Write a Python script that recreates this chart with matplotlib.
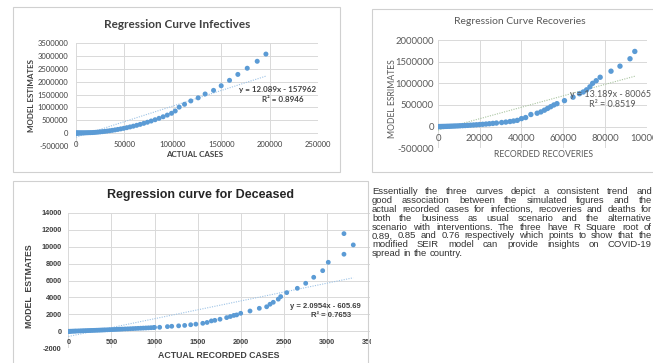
import matplotlib
matplotlib.use("Agg")
import matplotlib.pyplot as plt
from matplotlib.patches import Rectangle
from matplotlib.ticker import FixedLocator, FuncFormatter
import numpy as np

W, H = 663, 363

# ---------------- data ----------------
inf_x = [0, 300, 700, 1200, 1800, 2500, 3300, 4200, 5200, 6300, 7500, 8800, 10200, 11700,
         13300, 15000, 16800, 18700, 20700, 22800, 25000, 27300, 29700, 32200, 34800, 37500,
         40300, 43200, 46200, 49300, 52500, 55800, 59200, 62700, 66300, 70000, 73800, 77700,
         81700, 85800, 90000, 94300, 98700, 102500, 106600, 112100, 118600, 126200, 133400,
         142100, 150000, 158600, 167200, 176900, 187200, 196200]
inf_y = [0, 1000, 2000, 3000, 4000, 5000, 6000, 7000, 8000, 9000, 10000, 11000, 13000, 15000,
         17000, 19000, 22000, 27000, 33000, 40000, 48000, 58000, 68000, 80000, 93000, 108000,
         125000, 143000, 164000, 186000, 212000, 240000, 270000, 303000, 340000, 380000, 423000,
         470000, 520000, 575000, 635000, 700000, 770000, 860000, 1010000, 1120000, 1250000,
         1370000, 1520000, 1660000, 1840000, 2050000, 2280000, 2520000, 2790000, 3070000]
inf_eq = (12.089, -157962)
inf_r2 = "0.8946"

rec_x = [0, 500, 1000, 1600, 2300, 3000, 3800, 4600, 5500, 6400, 7400, 8400, 9500, 10600,
         11800, 13000, 14300, 15600, 17000, 18400, 19900, 21400, 23000, 24600, 26300, 28000,
         30500, 32500, 34500, 36200, 38000, 40000, 42000, 44500, 47500, 49300, 51000, 52500,
         54000, 55500, 57000, 60600, 64700, 67800, 69600, 71200, 72800, 74100, 75800, 77700,
         82900, 87200, 92000, 94300]
rec_y = [0, 1000, 2000, 3000, 4000, 5000, 6000, 8000, 9000, 11000, 13000, 15000, 17000, 20000,
         23000, 26000, 30000, 34000, 38000, 43000, 48000, 54000, 60000, 67000, 75000, 83000,
         95000, 105000, 118000, 130000, 145000, 185000, 210000, 280000, 310000, 340000, 380000,
         420000, 460000, 500000, 530000, 600000, 680000, 760000, 800000, 850000, 920000,
         1000000, 1060000, 1140000, 1280000, 1396000, 1567000, 1736000]
rec_eq = (13.189, -80065)
rec_r2 = "0.8519"

dec_x = [0, 5, 10, 20, 30, 45, 60, 75, 90, 110, 130, 150, 170, 190, 210, 230, 250, 270, 290,
         310, 330, 350, 370, 390, 410, 430, 455, 480, 505, 530, 555, 580, 605, 630, 660, 690,
         720, 750, 780, 810, 840, 870, 900, 930, 960, 990, 1000, 1060, 1150, 1200, 1280, 1350,
         1420, 1480, 1560, 1610, 1660, 1700, 1760, 1837, 1880, 1920, 1953, 2000, 2108, 2216,
         2301, 2340, 2378, 2436, 2464, 2534, 2657, 2754, 2847, 2951, 3016, 3198, 3198, 3306]
dec_y = [0, 2, 4, 8, 12, 18, 24, 30, 36, 44, 52, 60, 68, 76, 84, 92, 100, 108, 116, 124, 132,
         140, 148, 156, 165, 174, 185, 196, 208, 220, 232, 244, 256, 268, 282, 296, 310, 325,
         340, 355, 370, 385, 400, 415, 430, 445, 470, 480, 560, 600, 650, 700, 780, 850, 950,
         1050, 1230, 1300, 1430, 1620, 1750, 1880, 1940, 2130, 2400, 2720, 2900, 3200, 3430,
         3800, 4100, 4570, 5080, 5670, 6380, 7160, 8150, 9100, 11530, 10200]
dec_eq = (2.0954, -605.69)
dec_r2 = "0.7653"

inf_xticks = [0, 50000, 100000, 150000, 200000, 250000]
inf_yticks = [-500000, 0, 500000, 1000000, 1500000, 2000000, 2500000, 3000000, 3500000]
rec_xticks = [0, 20000, 40000, 60000, 80000, 100000]
rec_yticks = [-500000, 0, 500000, 1000000, 1500000, 2000000]
dec_xticks = [0, 500, 1000, 1500, 2000, 2500, 3000, 3500]
dec_yticks = [-2000, 0, 2000, 4000, 6000, 8000, 10000, 12000, 14000]

paragraph = [
    "Essentially the three curves depict a consistent trend and",
    "good association between the simulated figures and the",
    "actual recorded cases for infections, recoveries and deaths for",
    "both the business as usual scenario and the alternative",
    "scenario with interventions. The three have R Square root of",
    "0.89, 0.85 and 0.76 respectively which points to show that the",
    "modified SEIR model can provide insights on COVID-19",
    "spread in the country.",
]

# ---------------- figure ----------------
fig = plt.figure(figsize=(W / 100, H / 100), dpi=100)
fig.patch.set_facecolor("white")

BLUE = "#5b9bd5"
GRID = "#d9d9d9"


def fx(x):
    return x / W


def fy(y):
    return 1 - y / H


def panel(x0, y0, x1, y1):
    fig.add_artist(Rectangle((fx(x0), fy(y1)), fx(x1) - fx(x0), fy(y0) - fy(y1),
                             transform=fig.transFigure, facecolor="none",
                             edgecolor="#d0d0d0", linewidth=0.8, zorder=1))


def make_ax(l, r, t, b, xlim, ylim, xt, yt, tick_font, tick_size, tick_weight, xpad, ypad,
            tick_color):
    ax = fig.add_axes([fx(l), fy(b), fx(r) - fx(l), fy(t) - fy(b)])
    ax.set_xlim(*xlim)
    ax.set_ylim(*ylim)
    ax.xaxis.set_major_locator(FixedLocator(xt))
    ax.yaxis.set_major_locator(FixedLocator(yt))
    fmt = FuncFormatter(lambda v, p: "%d" % int(round(v)))
    ax.xaxis.set_major_formatter(fmt)
    ax.yaxis.set_major_formatter(fmt)
    for s in ax.spines.values():
        s.set_visible(False)
    ax.spines["bottom"].set_position(("data", 0))
    ax.grid(True, color=GRID, linewidth=0.7)
    ax.set_axisbelow(True)
    ax.tick_params(axis="both", length=0, colors=tick_color, labelsize=tick_size)
    ax.tick_params(axis="x", pad=xpad)
    ax.tick_params(axis="y", pad=ypad)
    for lab in ax.get_xticklabels() + ax.get_yticklabels():
        lab.set_family(tick_font)
        lab.set_fontweight(tick_weight)
    ax.patch.set_alpha(0)
    return ax


def trend(ax, xs, eq, color, lw=0.8):
    x0, x1 = min(xs), max(xs)
    xx = np.array([x0, x1])
    ax.plot(xx, eq[0] * xx + eq[1], linestyle=(0, (1, 1.2)), color=color, linewidth=lw,
            zorder=2)


# ---------- Chart 1 : Infectives ----------
panel(13, 7, 340, 172)
ax1 = make_ax(76, 318, 43, 146, (0, 250000), (-500000, 3500000), inf_xticks, inf_yticks,
              "Lato", 5.5, "normal", 5.5, 5.5, "#404040")
ax1.scatter(inf_x, inf_y, s=13, color=BLUE, edgecolors="none", zorder=3)
trend(ax1, inf_x, inf_eq, "#9dc3e6")
fig.text(fx(177), fy(24), "Regression Curve Infectives", family="Lato", weight="bold",
         fontsize=8.5, color="#404040", ha="center", va="center")
fig.text(fx(195), fy(154.5), "ACTUAL CASES", family="Lato", weight="bold", fontsize=5.8,
         color="#404040", ha="center", va="center")
fig.text(fx(32), fy(95), "MODEL ESTIMATES", family="Lato", weight="bold", fontsize=5.8,
         color="#404040", ha="center", va="center", rotation=90)
fig.text(fx(278), fy(89.5), "y = %.3fx - %d" % (inf_eq[0], -inf_eq[1]), family="Lato",
         weight="bold", fontsize=5.8, color="#404040", ha="center", va="center")
fig.text(fx(283), fy(99), "R² = " + inf_r2, family="Lato", weight="bold", fontsize=5.8,
         color="#404040", ha="center", va="center")

# ---------- Chart 2 : Recoveries ----------
panel(372, 9, 660, 172)
ax2 = make_ax(438, 646.7, 40, 148.3, (0, 100000), (-500000, 2000000), rec_xticks, rec_yticks,
              "Lato", 6.8, "normal", 5.0, 3, "#595959")
ax2.scatter(rec_x, rec_y, s=15, color=BLUE, edgecolors="none", zorder=3)
trend(ax2, rec_x, rec_eq, "#a9c4a0")
fig.text(fx(520), fy(22), "Regression Curve Recoveries", family="Lato", fontsize=7.5,
         color="#595959", ha="center", va="center")
fig.text(fx(543), fy(154.5), "RECORDED RECOVERIES", family="Lato", fontsize=6.2,
         color="#595959", ha="center", va="center")
fig.text(fx(392.5), fy(99), "MODEL ESRIMATES", family="Lato", fontsize=6.2,
         color="#595959", ha="center", va="center", rotation=90)
fig.text(fx(651), fy(94.5), "y = %.3fx - %d" % (rec_eq[0], -rec_eq[1]), family="Lato",
         fontsize=6.5, color="#595959", ha="right", va="center")
fig.text(fx(612), fy(104.5), "R² = " + rec_r2, family="Lato", fontsize=6.5,
         color="#595959", ha="center", va="center")
# crop right edge like the reference
fig.add_artist(Rectangle((fx(653), 0), 1 - fx(653), 1, transform=fig.transFigure,
                         facecolor="white", edgecolor="none", zorder=20))

# ---------- Chart 3 : Deceased ----------
panel(13, 181, 368, 370)
ax3 = make_ax(68.3, 370, 212.7, 348.3, (0, 3500), (-2000, 14000), dec_xticks, dec_yticks,
              "Liberation Sans", 5.3, "bold", 5.5, 4.7, "#404040")
ax3.scatter(dec_x, dec_y, s=12, color=BLUE, edgecolors="none", zorder=3)
trend(ax3, dec_x, dec_eq, "#9dc3e6")
fig.text(fx(201), fy(195), "Regression curve for Deceased", family="Liberation Sans",
         weight="bold", fontsize=9, color="#262626", ha="center", va="center")
fig.text(fx(219), fy(355), "ACTUAL RECORDED CASES", family="Liberation Sans", weight="bold",
         fontsize=6.3, color="#404040", ha="center", va="center")
fig.text(fx(30), fy(286), "MODEL  ESTMATES", family="Liberation Sans", weight="bold",
         fontsize=6.3, color="#404040", ha="center", va="center", rotation=90)
fig.text(fx(325), fy(306.7), "y = %.4fx - %.2f" % (dec_eq[0], -dec_eq[1]),
         family="Liberation Sans", weight="bold", fontsize=5.5, color="#404040",
         ha="center", va="center")
fig.text(fx(331), fy(315.5), "R² = " + dec_r2, family="Liberation Sans", weight="bold",
         fontsize=5.5, color="#404040", ha="center", va="center")
fig.add_artist(Rectangle((fx(370.5), 0), 1 - fx(370.5), fy(300), transform=fig.transFigure,
                         facecolor="white", edgecolor="none", zorder=20))

# ---------- Justified paragraph ----------
PFS = 6.8
PFAM = "Liberation Sans"
X0, X1 = 372, 652
Y0, DY = 191, 8.8
fig.canvas.draw()
rend = fig.canvas.get_renderer()


def text_w(s):
    t = fig.text(0, 0, s, fontsize=PFS, family=PFAM)
    w = t.get_window_extent(rend).width
    t.remove()
    return w


space_w = text_w("a a") - text_w("aa")
for i, line in enumerate(paragraph):
    words = line.split()
    widths = [text_w(w) for w in words]
    if i < len(paragraph) - 1 and len(words) > 1:
        gap = ((X1 - X0) - sum(widths)) / (len(words) - 1)
    else:
        gap = space_w
    x = X0
    y = Y0 + i * DY
    for w, ww in zip(words, widths):
        fig.text(fx(x), fy(y), w, fontsize=PFS, family=PFAM, color="#333333",
                 ha="left", va="center_baseline")
        x += ww + gap

fig.savefig("out.png", dpi=100, facecolor="white")
